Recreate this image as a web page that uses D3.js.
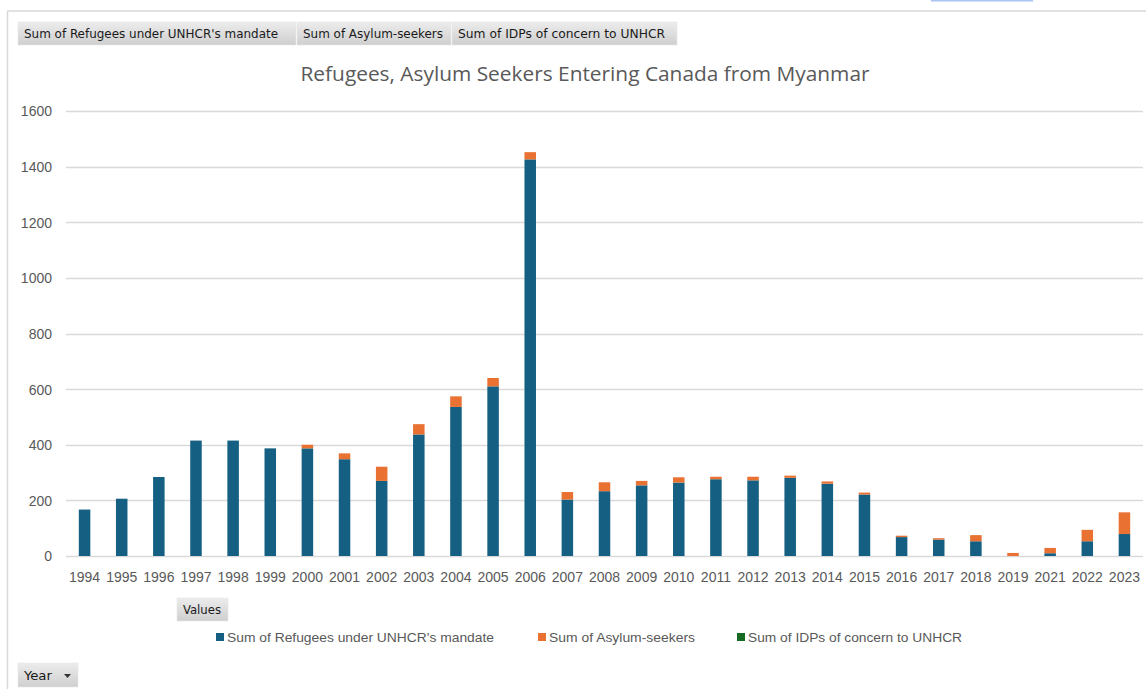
<!DOCTYPE html>
<html>
<head>
<meta charset="utf-8">
<script src="https://cdn.jsdelivr.net/npm/d3@7"></script>
<style>
  html, body { margin: 0; padding: 0; background: #ffffff; }
  svg { display: block; }
</style>
</head>
<body>
<svg id="chart" width="1146" height="689"></svg>
<script>
// ---- data ----
const years = ["1994","1995","1996","1997","1998","1999","2000","2001","2002","2003","2004","2005","2006","2007","2008","2009","2010","2011","2012","2013","2014","2015","2016","2017","2018","2019","2021","2022","2023"];
const refugees = [167,206,284,415,415,387,387,348,270,437,536,610,1426,203,233,254,264,276,272,281,260,221,68,59,53,0,10,53,79];
const asylumSeekers = [0,0,0,0,0,0,13,21,51,37,38,30,26,27,32,16,19,9,13,8,8,7,5,5,22,11,19,41,78];
const idps = [0,0,0,0,0,0,0,0,0,0,0,0,0,0,0,0,0,0,0,0,0,0,0,0,0,0,0,0,0];
const yTicks = [0,200,400,600,800,1000,1200,1400,1600];
const seriesNames = ["Sum of Refugees under UNHCR's mandate","Sum of Asylum-seekers","Sum of IDPs of concern to UNHCR"];
const seriesColors = ["#156082","#E97132","#196B24"];
const titleText = "Refugees, Asylum Seekers Entering Canada from Myanmar";

// ---- layout ----
const svg = d3.select("#chart");
const plot = { left: 66, right: 1143, top: 111, bottom: 556 };
const textGrey = "#595959";
const gridGrey = "#d9d9d9";

// outer frame of the chart sheet
svg.append("rect").attr("x", 931).attr("y", 0).attr("width", 102).attr("height", 1.5).attr("fill", "#a9c6f2");
svg.append("line").attr("x1", 7).attr("x2", 1146).attr("y1", 11).attr("y2", 11)
  .attr("stroke", "#d9d9d9").attr("stroke-width", 1.5);
svg.append("line").attr("x1", 7.5).attr("x2", 7.5).attr("y1", 11).attr("y2", 689)
  .attr("stroke", "#d9d9d9").attr("stroke-width", 1.5);

// gradient for the pivot field buttons
const defs = svg.append("defs");
const grad = defs.append("linearGradient").attr("id", "btnGrad").attr("x1", 0).attr("x2", 0).attr("y1", 0).attr("y2", 1);
grad.append("stop").attr("offset", "0%").attr("stop-color", "#ececec");
grad.append("stop").attr("offset", "100%").attr("stop-color", "#cfcfcf");

function fieldButton(x, y, w, h, label, textW) {
  const g = svg.append("g");
  g.append("rect").attr("x", x).attr("y", y).attr("width", w).attr("height", h)
    .attr("fill", "url(#btnGrad)").attr("stroke", "#e6e6e6").attr("stroke-width", 0.6);
  const t = g.append("text").attr("x", x + 6).attr("y", y + h / 2 + 4.5)
    .attr("font-family", "'DejaVu Sans Condensed', 'DejaVu Sans', sans-serif")
    .attr("font-size", 12).attr("fill", "#1a1a1a").text(label);
  if (textW) t.attr("textLength", textW).attr("lengthAdjust", "spacingAndGlyphs");
  return g;
}
fieldButton(18, 22, 278, 23, seriesNames[0], 254);
fieldButton(297, 22, 154, 23, seriesNames[1], 140);
fieldButton(452, 22, 225, 23, seriesNames[2], 207);
fieldButton(177, 598, 51, 23, "Values", 38);
const yearBtn = fieldButton(18, 663, 60, 24, "Year", 28);
yearBtn.append("path").attr("d", "M64,674 L71,674 L67.5,678 Z").attr("fill", "#333");

// ---- scales ----
const x = d3.scaleBand().domain(years).range([plot.left, plot.right]).paddingInner(0.69).paddingOuter(0.345);
const y = d3.scaleLinear().domain([0, 1600]).range([plot.bottom, plot.top]);

// title
svg.append("text").attr("x", 585).attr("y", 81).attr("text-anchor", "middle")
  .attr("font-family", "'Open Sans', 'Noto Sans', sans-serif").attr("font-size", 19.5)
  .attr("fill", textGrey).attr("textLength", 569).attr("lengthAdjust", "spacingAndGlyphs")
  .text(titleText);

// gridlines
svg.append("g").selectAll("line").data(yTicks).join("line")
  .attr("x1", plot.left).attr("x2", plot.right)
  .attr("y1", d => Math.round(y(d)) + 0.5).attr("y2", d => Math.round(y(d)) + 0.5)
  .attr("stroke", gridGrey).attr("stroke-width", 1.3);

// y axis labels
const yAxis = d3.axisLeft(y).tickValues(yTicks).tickFormat(d3.format("d")).tickSize(0).tickPadding(0);
const yg = svg.append("g").attr("transform", `translate(52,0)`).call(yAxis);
yg.select(".domain").remove();
yg.selectAll("text").attr("font-family", "'Liberation Sans', Arial, sans-serif")
  .attr("font-size", 14).attr("fill", textGrey).attr("dy", "0.35em");

// x axis labels
const xAxis = d3.axisBottom(x).tickSize(0).tickPadding(0);
const xg = svg.append("g").attr("transform", `translate(0,${plot.bottom})`).call(xAxis);
xg.select(".domain").remove();
xg.selectAll("text").attr("font-family", "'Liberation Sans', Arial, sans-serif")
  .attr("font-size", 14).attr("fill", textGrey).attr("dy", 0).attr("y", 26);

// stacked bars
const rows = years.map((yr, i) => ({ year: yr, r: refugees[i], a: asylumSeekers[i], p: idps[i] }));
const stack = d3.stack().keys(["r", "a", "p"])(rows);
svg.append("g").selectAll("g").data(stack).join("g")
  .attr("fill", (d, i) => seriesColors[i])
  .selectAll("rect").data(d => d).join("rect")
  .attr("x", d => x(d.data.year))
  .attr("width", x.bandwidth())
  .attr("y", d => y(d[1]))
  .attr("height", d => Math.max(0, y(d[0]) - y(d[1])));

// legend
const legendPos = [216, 538, 737];
const legendW = [267, 146, 214];
const lg = svg.append("g").selectAll("g").data(seriesNames).join("g")
  .attr("transform", (d, i) => `translate(${legendPos[i]},637)`);
lg.append("rect").attr("x", 0).attr("y", -4).attr("width", 8).attr("height", 8)
  .attr("fill", (d, i) => seriesColors[i]);
lg.append("text").attr("x", 11).attr("y", 4.5)
  .attr("font-family", "'Liberation Sans', Arial, sans-serif").attr("font-size", 13.5)
  .attr("fill", textGrey)
  .attr("textLength", (d, i) => legendW[i]).attr("lengthAdjust", "spacingAndGlyphs")
  .text(d => d);
</script>
</body>
</html>
